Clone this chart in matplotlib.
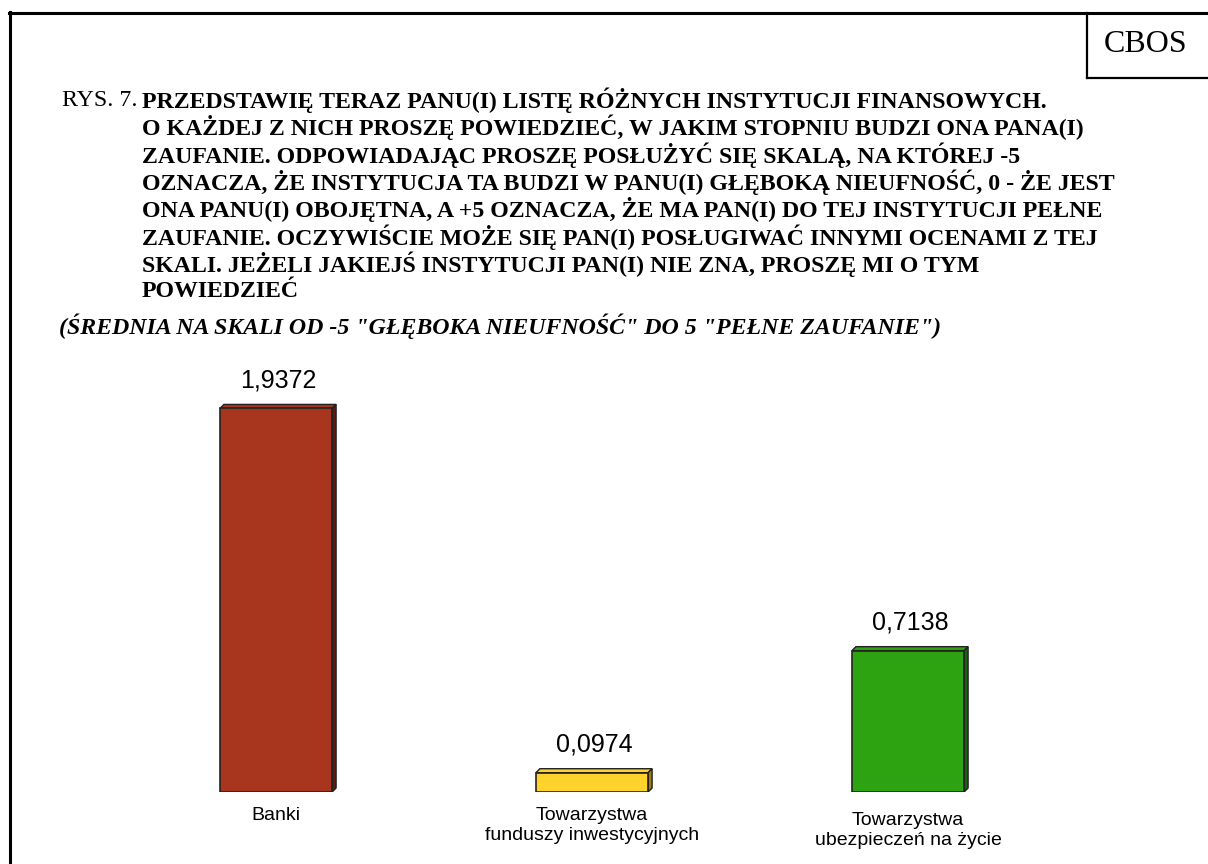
import matplotlib
matplotlib.use("Agg")
import matplotlib.pyplot as plt
from matplotlib.patches import Polygon
from matplotlib.lines import Line2D

# data
categories = ["Banki", "Towarzystwa\nfunduszy inwestycyjnych", "Towarzystwa\nubezpieczeń na życie"]
values = [1.9372, 0.0974, 0.7138]
value_labels = ["1,9372", "0,0974", "0,7138"]
colors = ["#A8361E", "#FFD22C", "#2EA312"]
side_colors = ["#5E1C0E", "#9C7E10", "#1B620B"]

title_prefix = "RYS. 7."
title_lines = [
    "PRZEDSTAWIĘ TERAZ PANU(I) LISTĘ RÓŻNYCH INSTYTUCJI FINANSOWYCH.",
    "O KAŻDEJ Z NICH PROSZĘ POWIEDZIEĆ, W JAKIM STOPNIU BUDZI ONA PANA(I)",
    "ZAUFANIE. ODPOWIADAJĄC PROSZĘ POSŁUŻYĆ SIĘ SKALĄ, NA KTÓREJ -5",
    "OZNACZA, ŻE INSTYTUCJA TA BUDZI W PANU(I) GŁĘBOKĄ NIEUFNOŚĆ, 0 - ŻE JEST",
    "ONA PANU(I) OBOJĘTNA, A +5 OZNACZA, ŻE MA PAN(I) DO TEJ INSTYTUCJI PEŁNE",
    "ZAUFANIE. OCZYWIŚCIE MOŻE SIĘ PAN(I) POSŁUGIWAĆ INNYMI OCENAMI Z TEJ",
    "SKALI. JEŻELI JAKIEJŚ INSTYTUCJI PAN(I) NIE ZNA, PROSZĘ MI O TYM",
    "POWIEDZIEĆ",
]
subtitle = '(ŚREDNIA NA SKALI OD -5 "GŁĘBOKA NIEUFNOŚĆ" DO 5 "PEŁNE ZAUFANIE")'

W, H = 1208, 864
fig = plt.figure(figsize=(W / 100, H / 100), dpi=100)
fig.patch.set_facecolor("white")

def fx(px):
    return px / W

def fy(py):
    return 1 - py / H

# frame lines
fig.add_artist(Line2D([fx(10), fx(10)], [fy(12), fy(864)], color="black", lw=2.2))
fig.add_artist(Line2D([fx(9), fx(1208)], [fy(13), fy(13)], color="black", lw=2.2))
fig.add_artist(Line2D([fx(1087), fx(1087)], [fy(13), fy(78)], color="black", lw=1.6))
fig.add_artist(Line2D([fx(1087), fx(1208)], [fy(78), fy(78)], color="black", lw=1.6))
fig.text(fx(1146), fy(44), "CBOS", family="Liberation Serif", fontsize=23,
         ha="center", va="center")

# header text
serif = "Liberation Serif"
fs = 17.2
fig.text(fx(62), fy(100), title_prefix, family=serif, fontsize=fs, va="center")
for i, line in enumerate(title_lines):
    fig.text(fx(142), fy(100 + i * 27.4), line, family=serif, fontsize=fs,
             weight="bold", va="center")
fig.text(fx(59), fy(100 + 7 * 27.4 + 34), subtitle, family=serif, fontsize=fs,
         weight="bold", style="italic", va="center")

# chart axes: 316 px per category, 198 px per unit
ax = fig.add_axes([fx(118), 72 / H, 948 / W, 2.2 * 198 / H])
ax.set_xlim(-0.5, 2.5)
ax.set_ylim(0, 2.2)
ax.axis("off")
x = list(range(len(values)))
bw = 0.355
dx, dy = 4 / 316, 4 / 198
ax.bar(x, values, width=bw, color=colors, edgecolor="#222222", linewidth=1.2, zorder=3)
label_pad = [11, 11, 14.5]
for xi, v, c, sc, lab, cat, pad in zip(x, values, colors, side_colors,
                                         value_labels, categories, label_pad):
    l, r = xi - bw / 2, xi + bw / 2
    top = Polygon([(l, v), (l + dx, v + dy), (r + dx, v + dy), (r, v)],
                  closed=True, facecolor=c, edgecolor="#222222", lw=1.0, zorder=2)
    side = Polygon([(r, 0), (r, v), (r + dx, v + dy), (r + dx, dy)],
                   closed=True, facecolor=sc, edgecolor="#222222", lw=1.0, zorder=2)
    ax.add_patch(top)
    ax.add_patch(side)
    ax.annotate(lab, (xi + dx / 2, v), xytext=(0, 11.5), textcoords="offset points",
                ha="center", va="bottom", family="Liberation Sans", fontsize=18)
    ax.annotate(cat, (xi, 0), xytext=(0, -pad), textcoords="offset points",
                ha="center", va="top", multialignment="center",
                family="Liberation Sans", fontsize=14, annotation_clip=False)

fig.savefig("out.png", dpi=100, facecolor="white")
